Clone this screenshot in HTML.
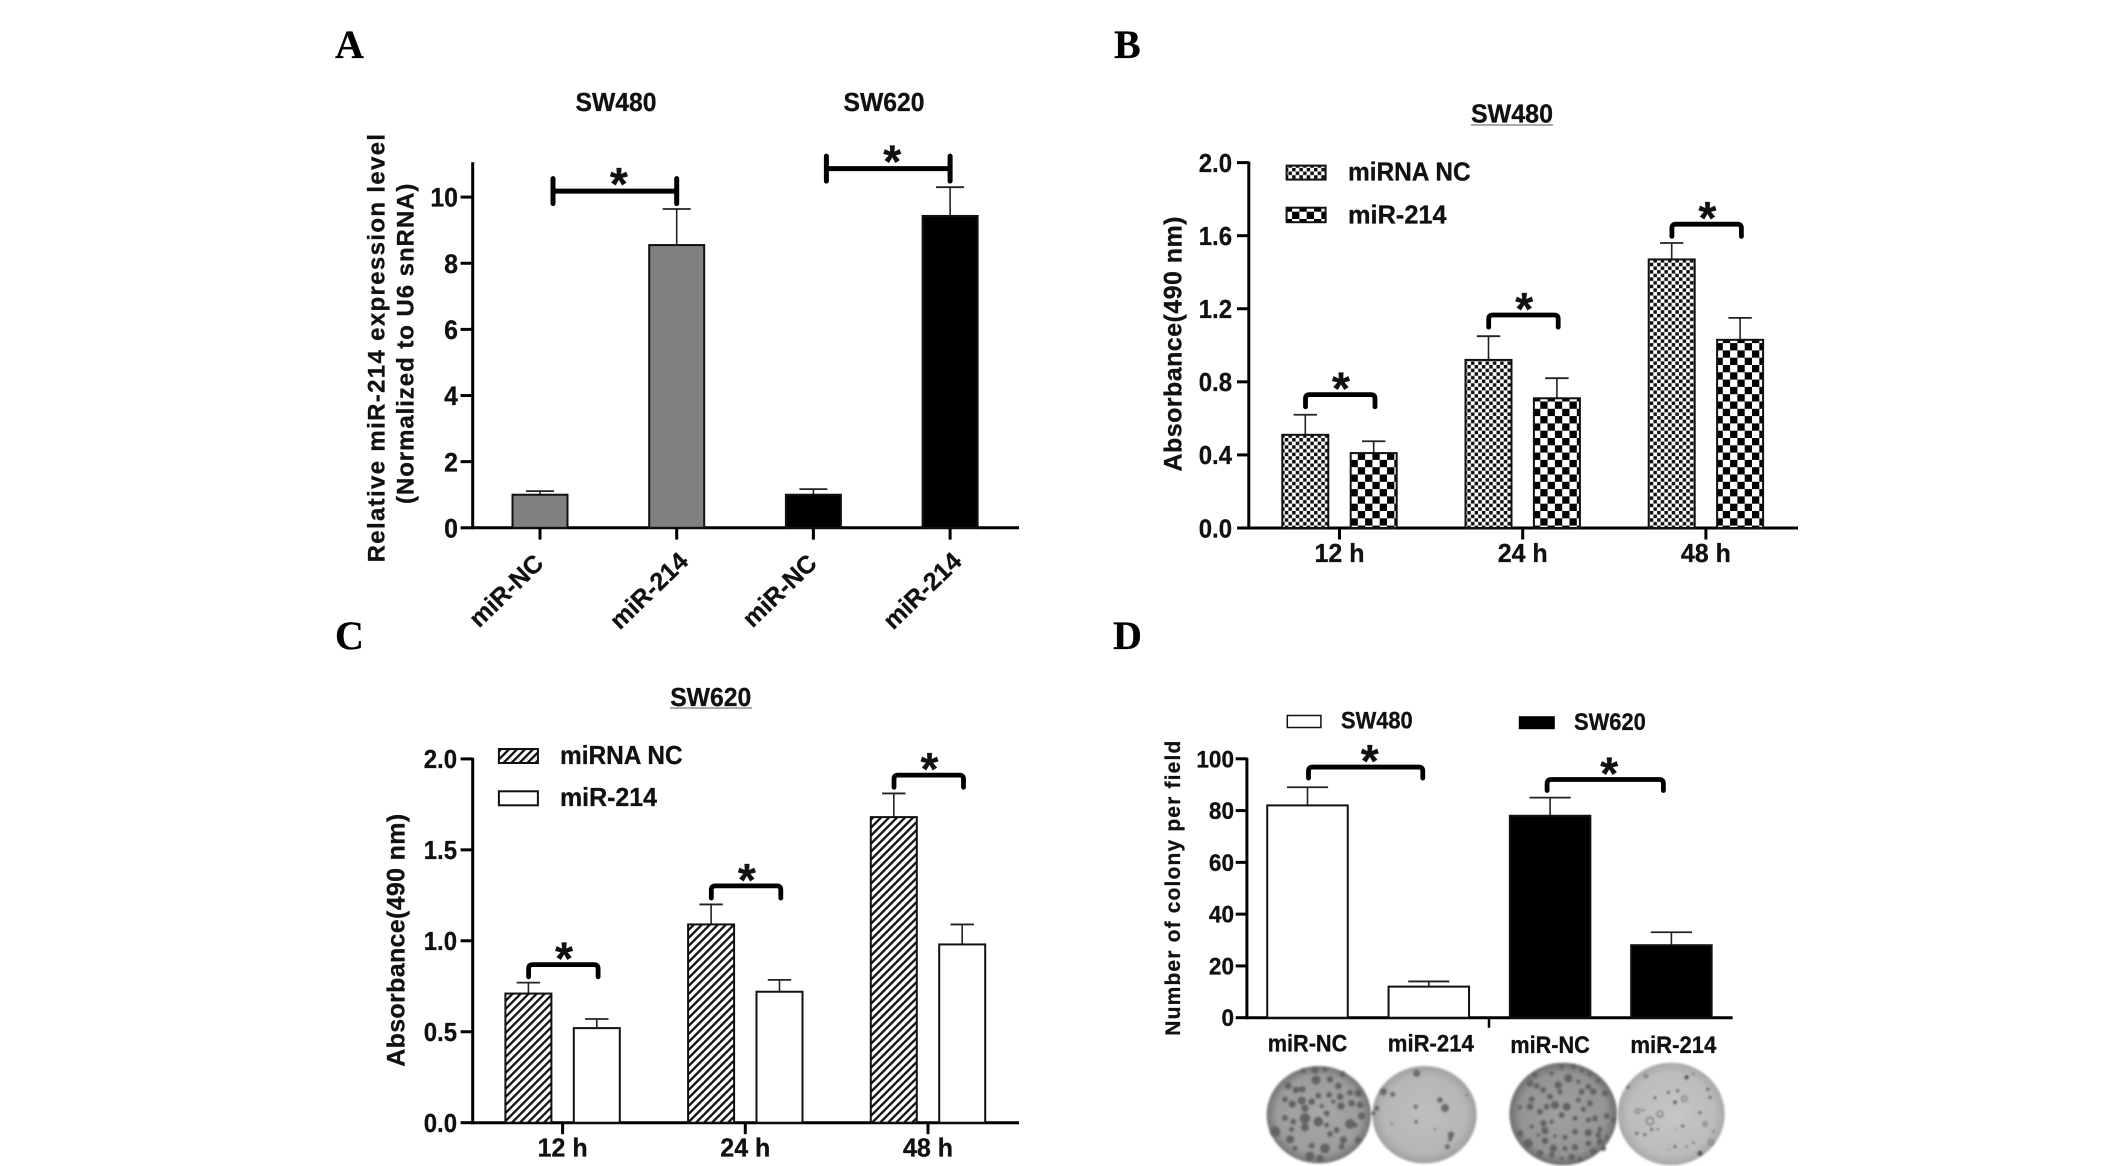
<!DOCTYPE html>
<html lang="en">
<head>
<meta charset="utf-8">
<title>miR-214 expression, absorbance and colony formation</title>
<style>
html,body{margin:0;padding:0;background:#fff;width:2126px;height:1166px;overflow:hidden}
svg{display:block}
text{font-family:"Liberation Sans",Arial,sans-serif;font-weight:bold;fill:#111;stroke:#111;stroke-width:.3}
.letter{font-family:"Liberation Serif","Times New Roman",serif;font-size:40px;fill:#000}
</style>
</head>
<body>
<svg id="figure" xmlns="http://www.w3.org/2000/svg" width="2126" height="1166" viewBox="0 0 2126 1166">
<defs>
<pattern id="fine-check" patternUnits="userSpaceOnUse" width="7.3" height="7.3"><rect width="7.3" height="7.3" fill="#fff"/><rect width="3.5" height="3.5" fill="#111"/><rect x="3.65" y="3.65" width="3.5" height="3.5" fill="#111"/></pattern>
<pattern id="coarse-check" patternUnits="userSpaceOnUse" width="14.6" height="14.6"><rect width="14.6" height="14.6" fill="#fff"/><rect width="7.3" height="7.3" fill="#000"/><rect x="7.3" y="7.3" width="7.3" height="7.3" fill="#000"/></pattern>
<pattern id="hatch" patternUnits="userSpaceOnUse" width="5.66" height="5.66" patternTransform="rotate(45)"><rect width="5.66" height="5.66" fill="#fff"/><rect width="2.3" height="5.66" fill="#111"/></pattern>
<radialGradient id="dish-dark-1"><stop offset="0" stop-color="#a8a8a8"/><stop offset=".8" stop-color="#9c9c9c"/><stop offset="1" stop-color="#747474"/></radialGradient>
<radialGradient id="dish-light-1"><stop offset="0" stop-color="#bebebe"/><stop offset=".8" stop-color="#b6b6b6"/><stop offset="1" stop-color="#a0a0a0"/></radialGradient>
<radialGradient id="dish-dark-2"><stop offset="0" stop-color="#a0a0a0"/><stop offset=".8" stop-color="#949494"/><stop offset="1" stop-color="#6e6e6e"/></radialGradient>
<radialGradient id="dish-light-2"><stop offset="0" stop-color="#c6c6c6"/><stop offset=".8" stop-color="#bcbcbc"/><stop offset="1" stop-color="#a8a8a8"/></radialGradient>
<filter id="soft" x="-5%" y="-5%" width="110%" height="110%"><feGaussianBlur stdDeviation="1"/></filter>
</defs>

<text class="letter" x="335" y="58">A</text>
<text class="letter" x="1114" y="58">B</text>
<text class="letter" x="335" y="649">C</text>
<text class="letter" x="1113" y="649">D</text>

<!-- Panel A titles -->
<text x="616" y="111" font-size="26" text-anchor="middle" textLength="81" lengthAdjust="spacingAndGlyphs">SW480</text>
<text x="884" y="111" font-size="26" text-anchor="middle" textLength="81" lengthAdjust="spacingAndGlyphs">SW620</text>
<text font-size="24" transform="translate(384.5,562.4) rotate(-90)" textLength="428.5" lengthAdjust="spacing">Relative miR-214 expression level</text>
<text font-size="24" transform="translate(413.5,504) rotate(-90)" textLength="320.4" lengthAdjust="spacing">(Normalized to U6 snRNA)</text>

<!-- Panel B static -->
<text x="1512" y="122.5" font-size="26" text-anchor="middle" textLength="82" lengthAdjust="spacingAndGlyphs">SW480</text>
<line x1="1471" x2="1553" y1="125" y2="125" stroke="#777" stroke-width="1.2"/>
<text font-size="25" transform="translate(1181.4,471.5) rotate(-90)" textLength="255" lengthAdjust="spacing">Absorbance(490 nm)</text>
<rect x="1286.6" y="165.6" width="39" height="14" fill="url(#fine-check)" stroke="#111" stroke-width="2"/>
<text x="1348" y="180.6" font-size="26" textLength="122.6" lengthAdjust="spacingAndGlyphs">miRNA NC</text>
<rect x="1286.6" y="207.7" width="39" height="14.5" fill="url(#coarse-check)" stroke="#111" stroke-width="2"/>
<text x="1348" y="223.5" font-size="26" textLength="98.6" lengthAdjust="spacingAndGlyphs">miR-214</text>

<!-- Panel C static -->
<text x="710.7" y="705.8" font-size="26" text-anchor="middle" textLength="81" lengthAdjust="spacingAndGlyphs">SW620</text>
<line x1="670" x2="752" y1="708" y2="708" stroke="#777" stroke-width="1.2"/>
<text font-size="25" transform="translate(404.3,1066.8) rotate(-90)" textLength="253" lengthAdjust="spacing">Absorbance(490 nm)</text>
<rect x="498.9" y="749" width="39" height="14" fill="url(#hatch)" stroke="#111" stroke-width="2"/>
<text x="560" y="763.9" font-size="26" textLength="122.6" lengthAdjust="spacingAndGlyphs">miRNA NC</text>
<rect x="498.9" y="791.3" width="39" height="14" fill="#fff" stroke="#111" stroke-width="2"/>
<text x="560" y="805.8" font-size="26" textLength="97" lengthAdjust="spacingAndGlyphs">miR-214</text>

<!-- Panel D static -->
<text font-size="21" transform="translate(1180,1035.7) rotate(-90)" textLength="295" lengthAdjust="spacing">Number of colony per field</text>
<rect x="1287.3" y="715.5" width="33.6" height="12" fill="#fff" stroke="#111" stroke-width="1.5"/>
<text x="1341" y="728.5" font-size="24" textLength="71.7" lengthAdjust="spacingAndGlyphs">SW480</text>
<rect x="1518.8" y="716.2" width="36" height="13" fill="#000"/>
<text x="1574" y="730" font-size="24" textLength="71.8" lengthAdjust="spacingAndGlyphs">SW620</text>
<g id="dishes"></g>
</svg>

<script>
// Panel A data
const aCategories = ['miR-NC', 'miR-214', 'miR-NC', 'miR-214'];
const aValues = [1.0, 8.55, 1.0, 9.43];
const aErrorTops = [1.11, 9.64, 1.17, 10.3];
const aBracketLevels = [10.18, 10.86];
const aYTicks = ['0', '2', '4', '6', '8', '10'];

// Panel B data
const bCategories = ['12 h', '24 h', '48 h'];
const bControl = [0.51, 0.92, 1.47];
const bControlErrorTops = [0.62, 1.05, 1.56];
const bTreated = [0.41, 0.71, 1.03];
const bTreatedErrorTops = [0.475, 0.82, 1.15];
const bBracketLevels = [0.73, 1.166, 1.663];
const bYTicks = ['0.0', '0.4', '0.8', '1.2', '1.6', '2.0'];

// Panel C data
const cCategories = ['12 h', '24 h', '48 h'];
const cControl = [0.71, 1.09, 1.68];
const cControlErrorTops = [0.77, 1.2, 1.81];
const cTreated = [0.52, 0.72, 0.98];
const cTreatedErrorTops = [0.57, 0.785, 1.09];
const cBracketLevels = [0.869, 1.302, 1.911];
const cYTicks = ['0.0', '0.5', '1.0', '1.5', '2.0'];

// Panel D data
const dCategories = ['miR-NC', 'miR-214', 'miR-NC', 'miR-214'];
const dValues = [82, 12, 78, 28];
const dErrorTops = [89, 14, 85, 33];
const dBracketLevels = [96.8, 92];
const dYTicks = ['0', '20', '40', '60', '80', '100'];

// Colony photographs (x, y, radius in photo-crop units; not chart data)
const dishColonies1 = [[130,62,7],[165,60,10],[195,58,7],[248,72,8],[168,90,12],[210,88,9],[85,108,9],[108,120,9],[127,118,9],[235,108,9],[175,137,8],[207,135,8],[240,140,9],[270,128,8],[295,130,10],[75,148,8],[97,162,10],[125,152,11],[155,155,9],[220,155,6],[135,175,10],[185,168,6],[243,168,10],[275,160,9],[300,165,9],[200,190,8],[75,204,8],[100,215,8],[135,205,14],[175,215,13],[200,225,7],[270,222,13],[305,198,10],[135,232,11],[95,238,7],[230,240,8],[210,252,8],[250,270,10],[90,268,11],[45,245,14],[155,287,8],[105,295,7],[195,295,13],[245,290,8],[150,318,12],[180,325,10],[295,270,9],[285,225,7]];
const dishColonies2 = [[470,70,10],[398,133,7],[370,125,10],[540,150,8],[555,174,11],[467,170,6],[468,215,5],[573,254,9],[570,268,6],[562,290,7],[350,175,7],[620,136,3],[525,238,3],[395,220,3],[340,190,6]];
const dishColonies3 = [[825,75,8],[875,70,6],[905,50,7],[940,50,7],[965,62,6],[990,72,7],[1015,92,7],[810,100,9],[830,108,8],[850,120,8],[895,105,10],[925,85,11],[955,95,6],[985,110,8],[1035,130,8],[870,140,8],[900,125,7],[965,125,8],[1000,125,9],[815,148,8],[860,170,8],[885,165,11],[920,170,11],[955,150,7],[990,160,8],[780,172,6],[810,170,9],[840,185,8],[905,195,8],[970,178,7],[945,205,7],[985,210,7],[1005,205,8],[1040,198,8],[1060,210,7],[850,220,9],[875,215,6],[815,230,6],[855,242,10],[885,258,5],[915,262,7],[945,245,8],[985,248,10],[1020,238,7],[1015,255,8],[780,250,9],[805,280,12],[835,255,5],[855,272,9],[880,295,10],[915,295,7],[945,292,9],[985,280,8],[1020,275,9],[1040,262,6],[840,310,9],[875,315,8],[935,322,9],[960,328,7],[1000,305,9],[1030,295,7],[905,325,5]];
const dishColonies4 = [[1280,82,6],[1300,72,3],[1253,122,4],[1245,157,5],[1343,118,4],[1350,142,4],[1320,188,4],[1150,180,3],[1175,238,4],[1193,238,3],[1130,250,4],[1155,254,4],[1268,228,4],[1248,238,2],[1360,245,3],[1300,278,3],[1245,290,4],[1280,290,3],[1228,298,2],[1320,310,7],[1105,112,4],[1185,143,4],[1225,128,4]];
const dishRings4 = [[1158,78,5],[1273,146,8],[1133,183,7],[1200,192,9],[1170,213,11],[1335,222,6],[1353,277,8]];

const NS = 'http://www.w3.org/2000/svg';
const figure = document.getElementById('figure');

function mk(tag, attrs, parent) {
  const el = document.createElementNS(NS, tag);
  for (const k in attrs) el.setAttribute(k, attrs[k]);
  parent.appendChild(el);
  return el;
}

function addGroup(name) {
  const g = mk('g', {}, figure);
  
  
  return g;
}

function drawAxisLines(g, x0, yTop, yBase, xEnd) {
  const yAxis = mk('line', {x1: x0, x2: x0, y1: yTop - 1, y2: yBase + 1.5, stroke: '#000', 'stroke-width': 3}, g);
  
  
  const xAxis = mk('line', {x1: x0, x2: xEnd, y1: yBase, y2: yBase, stroke: '#000', 'stroke-width': 3}, g);
  
  
}

function drawYTicks(g, labels, y, x0, tickLeft, labelRight, fontSize, baselineShift) {
  labels.forEach(function (label) {
    const py = y(parseFloat(label));
    const t = mk('line', {x1: tickLeft, x2: x0, y1: py, y2: py, stroke: '#000', 'stroke-width': 3}, g);
    
    
    const s = mk('text', {'font-size': fontSize, 'text-anchor': 'end', transform: 'translate(' + labelRight + ',' + (py + baselineShift) + ') scale(.92,1)'}, g);
    s.textContent = label;
    
    
  });
}

function drawBar(g, cx, width, base, top, errTop, capHalf, fill, name) {
  const stem = mk('line', {x1: cx, x2: cx, y1: top, y2: errTop, stroke: '#222', 'stroke-width': 1.6}, g);
  
  
  const cap = mk('line', {x1: cx - capHalf, x2: cx + capHalf, y1: errTop, y2: errTop, stroke: '#222', 'stroke-width': 1.8}, g);
  
  
  const bar = mk('rect', {x: cx - width / 2, y: top, width: width, height: base - top, fill: fill, stroke: '#111', 'stroke-width': 2}, g);
  
  
}

function drawStar(g, cx, cy, name) {
  const s = mk('text', {x: cx, y: cy + 21, 'font-size': 46, 'text-anchor': 'middle'}, g);
  s.textContent = '*';
  
  
}

function drawBracket(g, x1, x2, y, drop, name) {
  const r = 4;
  const d = 'M' + x1 + ' ' + (y + drop) + 'V' + (y + r) + 'Q' + x1 + ' ' + y + ' ' + (x1 + r) + ' ' + y +
            'H' + (x2 - r) + 'Q' + x2 + ' ' + y + ' ' + x2 + ' ' + (y + r) + 'V' + (y + drop);
  const p = mk('path', {d: d, fill: 'none', stroke: '#000', 'stroke-width': 4.8, 'stroke-linecap': 'round'}, g);
  
  
}

/* ---------- Panel A ---------- */
(function () {
  const g = addGroup('panel-a-expression-chart');
  const y = function (v) { return 527.8 - v * 33.07; };
  const x = function (i) { return 540 + i * 136.7; };
  drawAxisLines(g, 472.7, 163.3, 527.8, 1019);
  drawYTicks(g, aYTicks, y, 472.7, 460.6, 458, 27, 9.6);
  const fills = ['#808080', '#808080', '#000', '#000'];
  aCategories.forEach(function (cat, i) {
    drawBar(g, x(i), 55, y(0), y(aValues[i]), y(aErrorTops[i]), 14, fills[i], 'bar-' + cat.toLowerCase() + '-' + i);
    const tick = mk('line', {x1: x(i), x2: x(i), y1: 527.8, y2: 539.6, stroke: '#000', 'stroke-width': 3}, g);
    
    
    const dx = i % 2 ? 13 : 5;
    const dy = i % 2 ? 563 : 565;
    const label = mk('text', {'font-size': 25, 'text-anchor': 'end', transform: 'translate(' + (x(i) + dx) + ',' + dy + ') rotate(-44)'}, g);
    label.textContent = cat;
    
    
  });
  aBracketLevels.forEach(function (level, k) {
    const x1 = x(k * 2) + 13;
    const x2 = x(k * 2 + 1);
    const py = y(level);
    const bar = mk('path', {d: 'M' + x1 + ' ' + py + 'H' + x2 + 'M' + x1 + ' ' + (py - 12.5) + 'V' + (py + 12.5) + 'M' + x2 + ' ' + (py - 12.5) + 'V' + (py + 12.5), fill: 'none', stroke: '#000', 'stroke-width': 5, 'stroke-linecap': 'round'}, g);
    
    
    drawStar(g, (x1 + x2) / 2 + 4, py - 12, 'significance-star-' + k);
  });
})();

/* ---------- Panels B and C ---------- */
function drawGrouped(name, cfg) {
  const g = addGroup(name);
  drawAxisLines(g, cfg.x0, cfg.yTop, cfg.yBase, cfg.xEnd);
  drawYTicks(g, cfg.ticks, cfg.y, cfg.x0, cfg.tickLeft, cfg.labelRight, 26, cfg.tickShift);
  cfg.categories.forEach(function (cat, i) {
    const cx = cfg.x(i);
    drawBar(g, cx - 34.2, 46, cfg.yBase, cfg.y(cfg.control[i]), cfg.y(cfg.controlErr[i]), 11.7, cfg.fillControl, 'bar-mirna-nc-' + cat.replace(' ', ''));
    drawBar(g, cx + 34.2, 46, cfg.yBase, cfg.y(cfg.treated[i]), cfg.y(cfg.treatedErr[i]), 11.7, cfg.fillTreated, 'bar-mir-214-' + cat.replace(' ', ''));
    const tick = mk('line', {x1: cx, x2: cx, y1: cfg.yBase, y2: cfg.yBase + 11.5, stroke: '#000', 'stroke-width': 3}, g);
    
    
    const label = mk('text', {x: cx, y: cfg.yBase + 33.8, 'font-size': 26, 'text-anchor': 'middle', textLength: 50, lengthAdjust: 'spacingAndGlyphs'}, g);
    label.textContent = cat;
    
    
    const py = cfg.y(cfg.brackets[i]);
    drawBracket(g, cx - 34, cx + 35.5, py, 12.2, 'significance-bracket-' + cat.replace(' ', ''));
    drawStar(g, cx + 1.5, py - 11, 'significance-star-' + cat.replace(' ', ''));
  });
}

drawGrouped('panel-b-sw480-absorbance-chart', {
  x0: 1248.8, yTop: 162.6, yBase: 528, xEnd: 1798, tickLeft: 1237, labelRight: 1232, tickShift: 9.3,
  y: function (v) { return 528 - v * 182.7; },
  x: function (i) { return 1339.5 + i * 183.2; },
  ticks: bYTicks, categories: bCategories, control: bControl, controlErr: bControlErrorTops,
  treated: bTreated, treatedErr: bTreatedErrorTops, brackets: bBracketLevels,
  fillControl: 'url(#fine-check)', fillTreated: 'url(#coarse-check)'
});

drawGrouped('panel-c-sw620-absorbance-chart', {
  x0: 472.7, yTop: 758.8, yBase: 1122.7, xEnd: 1019, tickLeft: 460.6, labelRight: 457, tickShift: 9.3,
  y: function (v) { return 1122.7 - v * 181.9; },
  x: function (i) { return 562.6 + i * 182.7; },
  ticks: cYTicks, categories: cCategories, control: cControl, controlErr: cControlErrorTops,
  treated: cTreated, treatedErr: cTreatedErrorTops, brackets: cBracketLevels,
  fillControl: 'url(#hatch)', fillTreated: '#fff'
});

/* ---------- Panel D ---------- */
(function () {
  const g = addGroup('panel-d-colony-chart');
  const y = function (v) { return 1017.7 - v * 2.589; };
  const x = function (i) { return 1307.5 + i * 121.3; };
  drawAxisLines(g, 1246.9, 758.8, 1017.7, 1732.6);
  drawYTicks(g, dYTicks, y, 1246.9, 1235.7, 1234, 24.5, 8.5);
  const fills = ['#fff', '#fff', '#000', '#000'];
  dCategories.forEach(function (cat, i) {
    drawBar(g, x(i), 80.5, y(0), y(dValues[i]), y(dErrorTops[i]), 20.6, fills[i], 'bar-' + cat.toLowerCase() + '-' + i);
    const label = mk('text', {x: x(i) + (i % 2 ? 2 : 0), y: i < 2 ? 1051.3 : 1053, 'font-size': 24, 'text-anchor': 'middle', textLength: i % 2 ? 86 : 79.5, lengthAdjust: 'spacingAndGlyphs'}, g);
    label.textContent = cat;
    
    
  });
  const sep = mk('line', {x1: 1489, x2: 1489, y1: 1017.7, y2: 1027.8, stroke: '#000', 'stroke-width': 2.5}, g);
  
  
  dBracketLevels.forEach(function (level, k) {
    const x1 = x(k * 2) + (k ? -3 : 1);
    const x2 = x(k * 2 + 1) - (k ? 8 : 6);
    const py = y(level);
    drawBracket(g, x1, x2, py, 11, 'significance-bracket-' + k);
    drawStar(g, (x1 + x2) / 2 + 4, py - 11, 'significance-star-' + k);
  });
})();

/* ---------- Colony dish photographs ---------- */
(function () {
  const host = document.getElementById('dishes');
  const dishes = [
    {name: 'dish-sw480-mir-nc', cx: 1318.8, cy: 1114.7, rx: 52.2, ry: 48.7, fill: 'url(#dish-dark-1)', spots: dishColonies1, rings: [], colour: '#636363'},
    {name: 'dish-sw480-mir-214', cx: 1424.5, cy: 1114.7, rx: 52.2, ry: 48.7, fill: 'url(#dish-light-1)', spots: dishColonies2, rings: [], colour: '#6c6c6c'},
    {name: 'dish-sw620-mir-nc', cx: 1563.2, cy: 1114, rx: 53.8, ry: 51.3, fill: 'url(#dish-dark-2)', spots: dishColonies3, rings: [], colour: '#636363'},
    {name: 'dish-sw620-mir-214', cx: 1671.2, cy: 1114, rx: 53.5, ry: 51.3, fill: 'url(#dish-light-2)', spots: dishColonies4, rings: dishRings4, colour: '#4c4c4c'}
  ];
  dishes.forEach(function (d) {
    const g = mk('g', {filter: 'url(#soft)'}, host);
    
    
    mk('ellipse', {cx: d.cx, cy: d.cy, rx: d.rx, ry: d.ry, fill: d.fill}, g);
    d.spots.forEach(function (s) {
      mk('circle', {cx: 1260 + s[0] / 3, cy: 1050 + s[1] / 3, r: s[2] * 1.15 / 3, fill: d.colour}, g);
    });
    d.rings.forEach(function (s) {
      mk('circle', {cx: 1260 + s[0] / 3, cy: 1050 + s[1] / 3, r: s[2] / 3, fill: 'none', stroke: '#444', 'stroke-width': 1}, g);
    });
  });
})();
</script>
</body>
</html>
